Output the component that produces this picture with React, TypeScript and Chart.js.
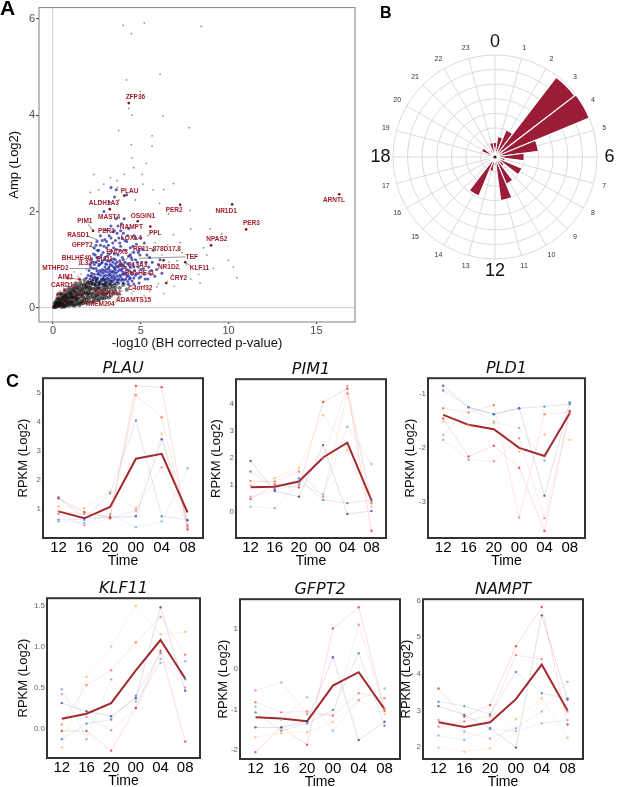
import React, { useEffect, useRef } from 'react';
import { Chart, registerables } from 'chart.js';

Chart.register(...registerables);
Chart.defaults.font.family = '"Liberation Sans", Arial, sans-serif';

// ---------------- Panel A data ----------------
const xTicksA = [0, 5, 10, 15];
const yTicksA = [0, 2, 4, 6];

const sparsePts: number[][] = [
  [3.99, 5.86], [5.2, 5.91], [4.46, 5.69], [8.44, 5.84], [6.1, 4.85], [4.18, 4.73], [4.97, 4.49], [4.31, 4.14],
  [4.5, 4.0], [6.26, 3.98], [7.76, 3.74], [3.74, 3.68], [5.64, 3.57], [4.46, 3.39], [5.64, 3.36], [4.5, 3.11],
  [5.31, 3.0], [4.59, 2.91], [2.32, 2.77], [3.27, 2.7], [4.06, 2.77], [5.12, 2.57], [6.86, 2.58], [3.68, 2.5],
  [2.6, 2.45], [5.7, 2.45], [4.69, 2.24], [3.74, 2.24], [6.07, 2.17], [7.81, 2.02], [6.58, 1.95], [8.95, 1.64],
  [7.84, 1.64], [9.61, 1.54], [9.99, 0.99], [10.27, 0.85], [10.47, 0.63], [8.76, 1.1], [9.14, 0.82], [7.34, 1.15],
  [6.86, 1.52], [7.24, 1.36], [8.57, 1.25], [6.3, 2.46], [5.07, 2.77], [3.65, 2.64], [2.89, 2.57], [2.13, 2.4],
  [2.7, 2.22], [7.06, 0.98], [7.84, 0.6], [7.34, 0.66], [8.38, 0.52], [5.92, 0.44],
];

const haloPts: number[][] = [
  [4.5, 0.3], [5.0, 0.45], [5.5, 0.35], [6.0, 0.5], [6.5, 0.55], [6.8, 0.7], [7.2, 0.8], [5.2, 0.25], [4.8, 0.2],
  [6.3, 0.3], [3.8, 0.25], [4.2, 0.2], [6.6, 0.95], [7.0, 1.2], [6.2, 1.1], [5.8, 1.35], [5.4, 1.5], [6.5, 1.3],
  [4.0, 0.15], [3.6, 0.18], [2.0, 1.35], [1.5, 0.9], [1.2, 0.75], [1.7, 1.1], [1.4, 0.65], [1.0, 0.6], [7.6, 0.9],
  [8.0, 1.05], [8.3, 0.7], [6.9, 0.45], [3.9, 0.35], [4.3, 0.42], [4.6, 0.35], [3.7, 0.48], [1.6, 0.7],
  [1.9, 0.8], [1.3, 0.55], [0.9, 0.5], [0.6, 0.45], [0.4, 0.35], [3.5, 0.12], [3.1, 0.1], [2.7, 0.08],
];

const cloudPts: number[][] = [
  [0.05, 0.02], [0.1, 0.05], [0.15, 0.03], [0.2, 0.08], [0.25, 0.05], [0.3, 0.12], [0.35, 0.04], [0.4, 0.15],
  [0.45, 0.09], [0.5, 0.2], [0.5, 0.06], [0.55, 0.13], [0.6, 0.25], [0.6, 0.04], [0.65, 0.17], [0.7, 0.09],
  [0.75, 0.28], [0.8, 0.2], [0.8, 0.06], [0.85, 0.12], [0.9, 0.32], [0.95, 0.24], [1.0, 0.08], [1.0, 0.16],
  [1.05, 0.36], [1.1, 0.28], [1.1, 0.11], [1.15, 0.2], [1.2, 0.4], [1.25, 0.07], [1.3, 0.31], [1.3, 0.15],
  [1.35, 0.24], [1.4, 0.44], [1.45, 0.1], [1.5, 0.35], [1.5, 0.19], [1.55, 0.28], [1.6, 0.47], [1.6, 0.09],
  [1.65, 0.14], [1.7, 0.38], [1.7, 0.23], [1.75, 0.31], [1.8, 0.5], [1.85, 0.12], [1.9, 0.42], [1.9, 0.18],
  [1.95, 0.27], [2.0, 0.35], [2.0, 0.52], [2.05, 0.15], [2.1, 0.45], [2.15, 0.22], [2.2, 0.3], [2.2, 0.55],
  [2.25, 0.12], [2.3, 0.4], [2.35, 0.19], [2.4, 0.48], [2.45, 0.27], [2.5, 0.35], [2.5, 0.56], [2.55, 0.16],
  [2.6, 0.43], [2.65, 0.24], [2.7, 0.52], [2.75, 0.31], [2.8, 0.2], [2.85, 0.45], [2.9, 0.38], [2.95, 0.27],
  [3.0, 0.5], [3.05, 0.22], [3.1, 0.42], [3.2, 0.33], [3.25, 0.55], [3.3, 0.26], [3.4, 0.45], [3.5, 0.36],
  [3.6, 0.5], [3.7, 0.3], [3.8, 0.42], [4.0, 0.48], [4.2, 0.38], [0.1, 0.1], [0.2, 0.15], [0.3, 0.2],
  [0.4, 0.08], [0.45, 0.25], [0.55, 0.3], [0.7, 0.34], [0.85, 0.38], [0.65, 0.03], [0.9, 0.05], [1.2, 0.05],
  [0.95, 0.42], [1.15, 0.46], [1.35, 0.5], [1.55, 0.53], [1.8, 0.58], [2.4, 0.6], [2.9, 0.58], [3.3, 0.4],
  [1.4, 0.38], [1.25, 0.26], [1.05, 0.22], [0.35, 0.3], [0.25, 0.2], [0.75, 0.14], [1.85, 0.34], [2.1, 0.38],
  [0.15, 0.12], [0.25, 0.12], [0.35, 0.1], [0.45, 0.16], [0.55, 0.08], [0.6, 0.18], [0.65, 0.24], [0.7, 0.22],
  [0.8, 0.28], [0.85, 0.2], [0.9, 0.14], [0.95, 0.32], [1.0, 0.24], [1.05, 0.3], [1.1, 0.38], [1.15, 0.13],
  [1.2, 0.22], [1.25, 0.34], [1.3, 0.42], [1.35, 0.16], [1.4, 0.2], [1.45, 0.3], [1.5, 0.42], [1.55, 0.12],
  [1.6, 0.25], [1.65, 0.4], [1.7, 0.3], [1.75, 0.46], [1.8, 0.2], [1.85, 0.42], [1.9, 0.3], [1.95, 0.5],
  [2.0, 0.22], [2.05, 0.42], [2.1, 0.3], [2.15, 0.52], [2.2, 0.4], [2.25, 0.25], [2.3, 0.5], [2.35, 0.32],
  [2.4, 0.22], [2.45, 0.44], [2.5, 0.26], [2.55, 0.4], [2.6, 0.3], [2.65, 0.5], [2.7, 0.4], [2.8, 0.35],
  [2.85, 0.28], [2.9, 0.48], [3.0, 0.3], [3.0, 0.4], [3.1, 0.32], [3.15, 0.48], [3.3, 0.48], [3.45, 0.3],
  [3.55, 0.42], [0.1, 0.02], [0.3, 0.06], [0.5, 0.02], [0.7, 0.04], [0.95, 0.1], [1.1, 0.06], [1.35, 0.08],
  [1.5, 0.06], [1.75, 0.1], [2.0, 0.1], [2.3, 0.14], [2.6, 0.18], [2.9, 0.2], [3.2, 0.22],
];

const redPts: number[][] = [
  [0.05, 0.03], [0.15, 0.08], [0.2, 0.02], [0.3, 0.1], [0.35, 0.18], [0.4, 0.05], [0.5, 0.12], [0.55, 0.22],
  [0.6, 0.08], [0.7, 0.15], [0.75, 0.25], [0.8, 0.1], [0.9, 0.2], [1.0, 0.3], [1.05, 0.14], [1.1, 0.22],
  [1.2, 0.34], [1.3, 0.2], [1.4, 0.28], [0.25, 0.28], [0.45, 0.3], [1.6, 0.35], [1.7, 0.16], [2.0, 0.3],
  [1.9, 0.45], [2.4, 0.38], [0.65, 0.38], [0.85, 0.62], [1.5, 0.6], [2.2, 0.66],
];

const bluePts: number[][] = [
  [1.9, 0.62], [2.0, 0.55], [2.05, 0.78], [2.1, 0.9], [2.15, 0.66], [2.2, 1.02], [2.25, 0.58], [2.3, 0.82],
  [2.35, 0.7], [2.4, 1.1], [2.45, 0.95], [2.5, 0.6], [2.5, 0.77], [2.55, 1.2], [2.6, 0.88], [2.6, 0.52],
  [2.65, 1.05], [2.7, 0.68], [2.7, 1.3], [2.75, 0.93], [2.8, 0.58], [2.8, 0.8], [2.85, 1.15], [2.9, 1.0],
  [2.9, 0.66], [2.95, 1.42], [3.0, 0.75], [3.0, 0.53], [3.05, 0.9], [3.05, 1.25], [3.1, 1.08], [3.1, 0.62],
  [3.15, 0.82], [3.2, 1.5], [3.2, 0.97], [3.25, 0.7], [3.3, 1.18], [3.3, 0.56], [3.35, 0.88], [3.4, 1.35],
  [3.4, 0.76], [3.45, 1.02], [3.5, 0.64], [3.5, 1.6], [3.55, 0.92], [3.6, 1.22], [3.6, 0.72], [3.65, 0.55],
  [3.7, 1.1], [3.7, 0.85], [3.75, 1.45], [3.8, 0.68], [3.8, 0.98], [3.85, 1.28], [3.9, 0.78], [3.9, 0.58],
  [3.95, 1.05], [4.0, 1.55], [4.0, 0.88], [4.05, 0.7], [4.1, 1.2], [4.1, 0.95], [4.15, 0.6], [4.2, 1.38],
  [4.2, 0.8], [4.3, 1.08], [4.3, 0.66], [4.35, 0.9], [4.4, 1.25], [4.45, 0.74], [4.5, 1.0], [4.5, 0.56],
  [4.6, 1.15], [4.6, 0.85], [4.7, 0.68], [4.75, 1.32], [4.8, 0.95], [4.9, 0.62], [4.95, 1.1], [5.0, 0.8],
  [5.1, 1.22], [5.2, 0.7], [5.3, 0.95], [5.4, 0.6], [5.5, 1.05], [5.6, 0.78], [5.8, 0.66], [6.0, 0.9],
  [6.2, 0.72], [5.7, 1.2], [3.3, 1.7], [3.6, 1.85], [3.9, 1.75], [4.3, 1.65], [3.0, 1.62], [2.7, 1.5],
  [2.5, 1.38], [2.35, 1.25], [4.6, 1.5], [5.0, 1.45], [2.2, 0.72], [2.4, 0.64], [2.6, 0.98], [2.85, 0.72],
  [3.15, 0.68], [3.35, 0.62], [3.55, 0.8], [3.75, 0.6], [3.95, 0.7], [4.25, 0.55], [2.55, 0.7], [2.75, 0.6],
  [3.05, 0.6], [3.45, 0.58], [3.2, 0.85], [3.5, 0.82], [2.95, 0.85], [2.65, 0.78], [3.85, 0.9], [4.4, 0.62],
  [3.3, 2.5], [3.6, 2.45], [3.5, 2.3], [4.2, 2.35], [2.9, 2.0], [3.2, 2.2],
  [2.0, 0.68], [2.1, 0.6], [2.15, 0.85], [2.25, 0.95], [2.3, 0.62], [2.35, 0.9], [2.45, 0.55], [2.45, 0.82],
  [2.5, 1.05], [2.55, 0.62], [2.6, 0.72], [2.65, 0.9], [2.7, 0.56], [2.75, 0.75], [2.75, 1.1], [2.8, 0.95],
  [2.85, 0.62], [2.9, 0.78], [2.95, 0.58], [2.95, 1.05], [3.0, 0.68], [3.0, 0.92], [3.05, 0.8], [3.1, 0.55],
  [3.1, 0.98], [3.15, 0.74], [3.2, 0.6], [3.2, 1.12], [3.25, 0.9], [3.25, 0.78], [3.3, 0.66], [3.3, 1.0],
  [3.35, 0.74], [3.4, 0.55], [3.4, 0.95], [3.45, 0.68], [3.45, 0.85], [3.5, 0.74], [3.5, 1.12], [3.55, 0.6],
  [3.55, 1.0], [3.6, 0.86], [3.65, 0.66], [3.65, 0.95], [3.7, 0.58], [3.7, 0.76], [3.75, 0.88], [3.8, 0.8],
  [3.8, 1.2], [3.85, 0.65], [3.9, 0.9], [3.95, 0.6], [3.95, 0.82], [4.0, 0.74], [4.0, 1.0], [4.05, 0.58],
  [4.1, 0.84], [4.15, 0.72], [4.2, 0.66], [4.25, 0.92], [4.3, 0.78], [4.35, 0.6], [4.4, 0.84], [4.45, 1.05],
  [4.5, 0.7], [4.55, 0.9], [4.6, 0.62], [4.65, 0.78], [4.7, 1.0], [4.8, 0.72], [4.85, 0.85], [4.9, 1.2],
  [5.0, 0.65], [5.05, 0.95], [5.15, 0.82], [5.25, 0.6], [5.35, 1.1], [5.45, 0.85], [5.55, 0.7], [5.65, 0.95],
  [5.9, 0.8], [6.1, 1.0], [2.3, 1.12], [2.45, 1.3], [2.6, 1.2], [2.8, 1.4], [2.9, 1.28], [3.05, 1.38],
  [3.15, 1.3], [3.3, 1.45], [3.45, 1.25], [3.55, 1.4], [3.65, 1.55], [3.8, 1.35], [3.95, 1.45], [4.1, 1.4],
  [4.25, 1.5], [4.4, 1.1], [4.55, 1.28], [4.7, 1.45], [4.85, 1.15], [5.2, 1.35], [3.4, 1.58], [3.7, 1.7],
  [4.05, 1.85], [3.85, 1.6], [2.2, 0.5], [2.4, 0.5], [2.6, 0.48], [2.85, 0.5], [3.0, 0.46], [3.25, 0.5],
  [3.5, 0.5], [3.75, 0.52], [4.0, 0.52], [4.3, 0.5], [4.6, 0.5], [4.9, 0.52],
];

const genePts: number[][] = [
  [4.31, 4.25], [4.06, 2.33], [7.24, 2.14], [10.2, 2.15], [16.3, 2.36], [4.82, 1.8], [2.28, 1.6], [11.0, 1.63],
  [5.54, 1.69], [9.0, 1.3], [7.53, 0.95], [6.45, 0.52], [6.3, 0.99], [3.23, 2.05],
];

const geneNames = [
  'ZFP36', 'PLAU', 'ALDH1A3', 'PER2', 'NR1D1', 'ARNTL', 'MAST4', 'OSGIN1', 'PIM1', 'PER3', 'NAMPT', 'PPL',
  'PER1', 'RASD1', 'LOXL4', 'NPAS2', 'GFPT2', 'RP11\u2212878D17.8', 'ENDX3', 'TEF', 'BHLHE40', 'PLD1', 'IL33',
  'MTHFD2', 'SLC13A3', 'NR1D2', 'KLF11', 'BHLHE41', 'AIM1', 'CRY2', 'CARD10', 'C4orf32', 'VTRNA1', 'ADAMTS15',
  'TMEM204',
];
const geneLabelX = [
  4.69, 4.36, 2.89, 6.9, 9.86, 16.0, 3.19, 5.12, 1.81, 11.3, 4.46, 5.82, 3.04, 1.43, 4.46, 9.33, 1.66, 5.92,
  3.65, 7.9, 1.34, 2.93, 1.85, 0.14, 4.56, 6.58, 8.34, 4.93, 0.71, 7.15, 0.62, 4.97, 3.17, 4.59, 2.66,
];
const geneLabelY = [
  4.37, 2.43, 2.17, 2.02, 2.0, 2.24, 1.89, 1.91, 1.8, 1.76, 1.67, 1.56, 1.59, 1.52, 1.45, 1.43, 1.3, 1.23,
  1.15, 1.06, 1.04, 1.02, 0.92, 0.82, 0.88, 0.85, 0.83, 0.73, 0.63, 0.61, 0.47, 0.41, 0.3, 0.16, 0.08,
];

const leaderFrom: number[][] = [
  [0.95, 0.82], [7.55, 1.06], [2.0, 1.74], [7.9, 0.86], [4.55, 1.19], [1.95, 1.02], [1.0, 0.62], [1.2, 0.47],
  [2.66, 0.13], [3.9, 0.19], [4.45, 0.44], [2.15, 1.28], [1.95, 1.5],
];
const leaderTo: number[][] = [
  [2.35, 0.82], [4.9, 1.03], [2.28, 1.6], [7.53, 0.95], [4.15, 1.0], [2.6, 0.92], [1.7, 0.58], [1.9, 0.5],
  [2.9, 0.35], [3.1, 0.42], [3.6, 0.6], [2.6, 1.15], [2.6, 1.4],
];

// ---------------- Panel B data ----------------
const hourLabels = ['0', '1', '2', '3', '4', '5', '6', '7', '8', '9', '10', '11', '12', '13', '14', '15', '16', '17', '18', '19', '20', '21', '22', '23'];
const hourCounts = [10, 14, 20, 69, 70, 30, 20, 7, 20, 8, 20, 30, 6, 10, 29, 4, 3, 3, 4, 5, 10, 4, 5, 10];
const hourMax = 70;

// ---------------- Panel C data ----------------
const timeLabels = ['12', '16', '20', '00', '04', '08'];
const subjectColors = ['#d73027', '#f46d43', '#fdae61', '#74add1', '#4575b4', '#313695', '#de77ae'];

const plauMean = [0.92, 0.68, 1.07, 2.74, 2.91, 0.88];
const plauSubjects = [
  [1.36, 0.9, 0.7, 5.25, 5.21, 0.29],
  [0.92, 0.83, 0.75, 4.94, 4.17, 0.4],
  [1.09, 1.03, 1.61, 1.03, 3.6, 0.34],
  [0.57, 0.52, 0.83, 0.37, 0.57, 2.41],
  [0.63, 0.63, 1.55, 4.06, 0.75, 0.63],
  [1.4, 0.69, 0.71, 0.75, 3.41, 0.61],
  [0.83, 0.44, 0.67, 0.95, 2.44, 0.46],
];
const plauTicks = [1, 2, 3, 4, 5];

const pim1Mean = [0.9, 0.92, 1.11, 2.0, 2.55, 0.41];
const pim1Subjects = [
  [0.46, 1.0, 0.89, 4.06, 4.55, -0.71],
  [1.13, 1.11, 1.48, 0.55, 4.37, 0.31],
  [0.98, 1.23, 1.62, 3.57, 2.28, 0.18],
  [0.18, 0.12, 1.05, 0.64, 3.14, 1.76],
  [1.48, 0.84, 1.23, 0.43, 0.31, 0.43],
  [1.87, 0.76, 0.55, 2.46, -0.09, 0.02],
  [0.55, 0.8, 0.98, 1.97, 4.65, 0.36],
];
const pim1Ticks = [0, 1, 2, 3, 4];

const pld1Mean = [-1.385, -1.57, -1.65, -2.0, -2.15, -1.35];
const pld1Subjects = [
  [-1.45, -2.16, -1.96, -2.37, -3.55, -1.31],
  [-1.26, -1.34, -1.2, -3.3, -1.37, -1.34],
  [-1.51, -1.58, -1.54, -2.07, -1.75, -1.85],
  [-1.76, -1.24, -1.51, -1.63, -2.24, -1.15],
  [-0.93, -1.24, -1.37, -1.26, -1.23, -1.18],
  [-0.84, -1.24, -1.37, -1.26, -2.89, -1.15],
  [-1.85, -2.22, -2.25, -1.82, -3.31, -1.31],
];
const pld1Ticks = [-3, -2, -1];

const klf11Mean = [0.12, 0.18, 0.31, 0.71, 1.08, 0.61];
const klf11Subjects = [
  [-0.03, -0.03, -0.27, 0.25, 0.95, -0.16],
  [0.05, 0.53, 0.71, 1.05, 1.36, 0.9],
  [-0.23, 0.63, 1.0, 1.5, 1.15, 1.18],
  [0.48, -0.13, 0.6, 0.33, 0.8, 0.82],
  [-0.13, 0.06, 0.11, 0.4, 0.92, 0.6],
  [0.31, 0.21, 0.15, 0.37, 1.48, 0.46],
  [0.42, 0.14, -0.02, 0.25, 0.85, 0.5],
];
const klf11Ticks = [0, 0.5, 1, 1.5];

const gfpt2Mean = [-1.19, -1.22, -1.29, -0.41, -0.08, -0.99];
const gfpt2Subjects = [
  [-2.05, -1.44, -1.87, 1.0, 1.52, -1.03],
  [-0.82, -1.07, -1.05, -1.15, -0.6, -0.72],
  [-1.68, -1.58, -1.56, -1.31, -0.78, -1.11],
  [-0.93, -1.25, -0.7, -1.52, -0.76, -0.48],
  [-1.07, -1.52, -1.34, -1.01, 0.39, -1.4],
  [-1.44, -1.44, -1.29, 0.29, -1.75, -1.3],
  [-0.53, -0.33, -1.11, -1.15, 1.09, -0.97],
];
const gfpt2Ticks = [-2, -1, 0, 1];

const namptMean = [2.68, 2.55, 2.68, 3.31, 4.25, 3.0];
const namptSubjects = [
  [3.6, 2.83, 3.15, 4.75, 5.82, 2.62],
  [2.56, 2.7, 2.85, 4.51, 4.4, 2.97],
  [1.99, 1.88, 1.97, 2.77, 3.33, 2.26],
  [2.32, 2.2, 2.49, 2.44, 2.65, 2.74],
  [3.24, 3.12, 2.9, 4.05, 3.47, 3.33],
  [3.12, 2.88, 2.52, 1.99, 5.59, 3.3],
  [2.74, 2.43, 2.24, 2.52, 2.97, 3.78],
];
const namptTicks = [2, 3, 4, 5, 6];

// ---------------- helpers ----------------
function rgba(hex: string, a: number) {
  const n = parseInt(hex.slice(1), 16);
  return `rgba(${(n >> 16) & 255},${(n >> 8) & 255},${n & 255},${a})`;
}

const boxPlugin = {
  id: 'boxBorder',
  afterDatasetsDraw(chart: any, _args: any, opts: any) {
    if (!opts || !opts.color) return;
    const { ctx, chartArea: a } = chart;
    ctx.save();
    ctx.strokeStyle = opts.color;
    ctx.lineWidth = opts.width;
    ctx.strokeRect(a.left, a.top, a.right - a.left, a.bottom - a.top);
    ctx.restore();
  },
};

const geneLabelPlugin = {
  id: 'geneLabels',
  afterDatasetsDraw(chart: any) {
    const { ctx } = chart;
    const xs = chart.scales.x;
    const ys = chart.scales.y;
    ctx.save();
    ctx.strokeStyle = 'rgba(20,20,20,0.75)';
    ctx.lineWidth = 0.6;
    leaderFrom.forEach((f, i) => {
      const t = leaderTo[i];
      ctx.beginPath();
      ctx.moveTo(xs.getPixelForValue(f[0]), ys.getPixelForValue(f[1]));
      ctx.lineTo(xs.getPixelForValue(t[0]), ys.getPixelForValue(t[1]));
      ctx.stroke();
    });
    ctx.font = 'bold 6.5px "Liberation Sans", Arial, sans-serif';
    ctx.fillStyle = '#a31f2b';
    ctx.textAlign = 'center';
    ctx.textBaseline = 'middle';
    geneNames.forEach((n, i) => {
      ctx.fillText(n, xs.getPixelForValue(geneLabelX[i]), ys.getPixelForValue(geneLabelY[i]));
    });
    ctx.restore();
  },
};

const hourLabelPlugin = {
  id: 'hourLabels',
  afterDraw(chart: any) {
    const s = chart.scales.r2;
    const ctx = chart.ctx;
    ctx.save();
    ctx.textAlign = 'center';
    ctx.textBaseline = 'middle';
    hourLabels.forEach((lab, i) => {
      const big = i % 6 === 0;
      const p = s.getPointPosition(i, s.drawingArea + (big ? 12.5 : 11));
      ctx.font = big ? '18px "Liberation Sans", Arial, sans-serif' : '7px "Liberation Sans", Arial, sans-serif';
      ctx.fillStyle = big ? '#111' : '#333';
      ctx.fillText(lab, p.x, p.y);
    });
    ctx.fillStyle = '#1a1a1a';
    ctx.beginPath();
    ctx.arc(s.xCenter, s.yCenter, 1.6, 0, Math.PI * 2);
    ctx.fill();
    ctx.restore();
  },
};

function ChartCanvas({ left, top, width, height, build }: { left: number; top: number; width: number; height: number; build: () => any }) {
  const ref = useRef<HTMLCanvasElement>(null);
  useEffect(() => {
    const chart = new Chart(ref.current as HTMLCanvasElement, build());
    return () => chart.destroy();
  }, []);
  return (
    <div style={{ position: 'absolute', left, top, width, height }}>
      <canvas ref={ref} width={width} height={height} style={{ width, height, display: 'block' }} />
    </div>
  );
}

function pts(a: number[][]) {
  return a.map(([x, y]) => ({ x, y }));
}

function scatterDs(a: number[][], color: string, r: number) {
  return { data: pts(a), backgroundColor: color, borderWidth: 0, pointRadius: r, pointHoverRadius: r };
}

function buildA() {
  return {
    type: 'scatter',
    data: {
      datasets: [
        scatterDs(sparsePts, 'rgba(110,110,110,0.75)', 0.9),
        scatterDs(haloPts, 'rgba(140,140,140,0.55)', 1.1),
        scatterDs(cloudPts, 'rgba(15,15,15,0.55)', 2.1),
        scatterDs(bluePts, 'rgba(40,48,165,0.78)', 1.5),
        scatterDs(redPts, 'rgba(225,30,30,0.9)', 1.6),
        scatterDs(genePts, '#7a1010', 1.3),
      ],
    },
    plugins: [boxPlugin, geneLabelPlugin],
    options: {
      animation: false,
      responsive: false,
      events: [],
      layout: { padding: { top: 5, right: 5, left: 0, bottom: 0 } },
      plugins: { legend: { display: false }, tooltip: { enabled: false }, boxBorder: { color: '#7f7f7f', width: 1 } },
      scales: {
        x: {
          type: 'linear',
          min: -0.8,
          max: 17.2,
          afterBuildTicks: (s: any) => { s.ticks = xTicksA.map((v) => ({ value: v })); },
          afterFit: (s: any) => { s.height = 30; },
          grid: {
            color: (c: any) => (c.tick && c.tick.value === 0 ? '#d6d6d6' : 'rgba(0,0,0,0)'),
            lineWidth: 1.2,
            tickColor: '#555',
            tickLength: 2,
            drawTicks: true,
          },
          border: { display: false },
          ticks: { font: { size: 11 }, color: '#4d4d4d', padding: 0, maxRotation: 0 },
          title: { display: true, text: '-log10 (BH corrected p-value)', font: { size: 13 }, color: '#111', padding: { top: 0, bottom: 1 } },
        },
        y: {
          type: 'linear',
          min: -0.29,
          max: 6.23,
          afterBuildTicks: (s: any) => { s.ticks = yTicksA.map((v) => ({ value: v })); },
          afterFit: (s: any) => { s.width = 39; },
          grid: {
            color: (c: any) => (c.tick && c.tick.value === 0 ? '#d6d6d6' : 'rgba(0,0,0,0)'),
            lineWidth: 1.2,
            tickColor: '#555',
            tickLength: 3,
            drawTicks: true,
          },
          border: { display: false },
          ticks: { font: { size: 11 }, color: '#4d4d4d', padding: 1 },
          title: { display: true, text: 'Amp (Log2)', font: { size: 13 }, color: '#111', padding: { top: 7, bottom: 0 } },
        },
      },
    },
  };
}

function buildB() {
  return {
    type: 'polarArea',
    data: {
      labels: hourLabels,
      datasets: [{ data: hourCounts, backgroundColor: '#9b1c36', borderColor: '#ffffff', borderWidth: 1.1 }],
    },
    plugins: [hourLabelPlugin],
    options: {
      animation: false,
      responsive: false,
      events: [],
      layout: { padding: 28 },
      plugins: { legend: { display: false }, tooltip: { enabled: false } },
      scales: {
        r: {
          type: 'radialLinear',
          startAngle: -7.5,
          min: 0,
          max: hourMax,
          ticks: { display: false, stepSize: 10 },
          grid: { circular: true, color: '#dadada', lineWidth: 1 },
          angleLines: { display: false },
          pointLabels: { display: false },
        },
        r2: {
          type: 'radialLinear',
          startAngle: 0,
          min: 0,
          max: hourMax,
          ticks: { display: false },
          grid: { display: false },
          angleLines: { display: true, color: '#dadada', lineWidth: 1 },
          pointLabels: { display: false },
        },
      },
    },
  };
}

type Geo = { L: number; T: number; R: number; B: number; yw: number };

function buildGene(title: string, mean: number[], subjects: number[][], yMin: number, yMax: number, yTicks: number[], decimals: number, geo: Geo) {
  const datasets: any[] = subjects.map((arr, k) => ({
    data: arr.map((v, i) => ({ x: i, y: v })),
    borderColor: rgba(subjectColors[k], 0.2),
    borderWidth: 0.8,
    pointRadius: 1.2,
    pointBackgroundColor: rgba(subjectColors[k], 0.75),
    pointBorderWidth: 0,
    tension: 0,
  }));
  datasets.push({
    data: mean.map((v, i) => ({ x: i, y: v })),
    borderColor: '#a3282c',
    borderWidth: 2,
    pointRadius: 0,
    tension: 0,
  });
  return {
    type: 'line',
    data: { datasets },
    plugins: [boxPlugin],
    options: {
      animation: false,
      responsive: false,
      events: [],
      layout: { padding: { right: 6, top: 0, left: 0, bottom: 0 } },
      plugins: {
        legend: { display: false },
        tooltip: { enabled: false },
        boxBorder: { color: '#333', width: 2 },
        title: {
          display: true,
          text: title,
          fullSize: false,
          color: '#111',
          font: { family: '"DejaVu Sans", sans-serif', size: 16, style: 'italic', weight: 'normal' },
          padding: { top: 5, bottom: 0 },
        },
      },
      scales: {
        x: {
          type: 'linear',
          min: -0.6,
          max: 5.6,
          afterBuildTicks: (s: any) => { s.ticks = timeLabels.map((_, i) => ({ value: i })); },
          afterFit: (s: any) => { s.height = 32; },
          grid: { display: false, drawTicks: false },
          border: { display: false },
          ticks: { callback: (v: any) => timeLabels[v], font: { size: 15 }, color: '#000', padding: 1, maxRotation: 0, autoSkip: false },
          title: { display: true, text: 'Time', font: { size: 14 }, color: '#000', padding: { top: 0, bottom: 0 } },
        },
        y: {
          type: 'linear',
          min: yMin,
          max: yMax,
          afterBuildTicks: (s: any) => { s.ticks = yTicks.map((v) => ({ value: v })); },
          afterFit: (s: any) => { s.width = geo.yw; },
          grid: { display: false, drawTicks: false },
          border: { display: false },
          ticks: { callback: (v: any) => Number(v).toFixed(decimals), font: { size: 8 }, color: '#666', padding: 2 },
          title: { display: true, text: 'RPKM (Log2)', font: { size: 13 }, color: '#111', padding: { top: 0, bottom: 0 } },
        },
      },
    },
  };
}

function GeneChart(props: { title: string; mean: number[]; subjects: number[][]; yMin: number; yMax: number; yTicks: number[]; decimals: number; geo: Geo }) {
  const { geo } = props;
  const left = geo.L - geo.yw;
  const top = geo.T - 24;
  const width = geo.R - geo.L + geo.yw + 6;
  const height = geo.B - geo.T + 24 + 32;
  return (
    <ChartCanvas
      left={left}
      top={top}
      width={width}
      height={height}
      build={() => buildGene(props.title, props.mean, props.subjects, props.yMin, props.yMax, props.yTicks, props.decimals, geo)}
    />
  );
}

const letterStyle: React.CSSProperties = { position: 'absolute', fontWeight: 'bold', lineHeight: 1, color: '#000' };

export default function App() {
  return (
    <div style={{ position: 'absolute', left: 0, top: 0, width: 617, height: 787, overflow: 'hidden', background: '#fff', fontFamily: '"Liberation Sans", Arial, sans-serif' }}>
      <ChartCanvas left={0} top={0} width={360} height={352} build={buildA} />
      <ChartCanvas left={365} top={27} width={260} height={260} build={buildB} />
      <GeneChart title="PLAU" mean={plauMean} subjects={plauSubjects} yMin={0} yMax={5.52} yTicks={plauTicks} decimals={0} geo={{ L: 43, T: 378, R: 203, B: 538, yw: 27 }} />
      <GeneChart title="PIM1" mean={pim1Mean} subjects={pim1Subjects} yMin={-0.98} yMax={4.9} yTicks={pim1Ticks} decimals={0} geo={{ L: 236, T: 379, R: 386, B: 538, yw: 27 }} />
      <GeneChart title="PLD1" mean={pld1Mean} subjects={pld1Subjects} yMin={-3.68} yMax={-0.7} yTicks={pld1Ticks} decimals={0} geo={{ L: 428, T: 378, R: 585, B: 538, yw: 25 }} />
      <GeneChart title="KLF11" mean={klf11Mean} subjects={klf11Subjects} yMin={-0.36} yMax={1.59} yTicks={klf11Ticks} decimals={1} geo={{ L: 47, T: 598, R: 200, B: 758, yw: 31 }} />
      <GeneChart title="GFPT2" mean={gfpt2Mean} subjects={gfpt2Subjects} yMin={-2.22} yMax={1.72} yTicks={gfpt2Ticks} decimals={0} geo={{ L: 240, T: 599, R: 400, B: 759, yw: 24 }} />
      <GeneChart title="NAMPT" mean={namptMean} subjects={namptSubjects} yMin={1.68} yMax={6.03} yTicks={namptTicks} decimals={0} geo={{ L: 423, T: 599, R: 583, B: 759, yw: 24 }} />
      <div style={{ ...letterStyle, left: 0, top: -3, fontSize: 21 }}>A</div>
      <div style={{ ...letterStyle, left: 380, top: 5, fontSize: 16 }}>B</div>
      <div style={{ ...letterStyle, left: 6, top: 372, fontSize: 18 }}>C</div>
    </div>
  );
}
